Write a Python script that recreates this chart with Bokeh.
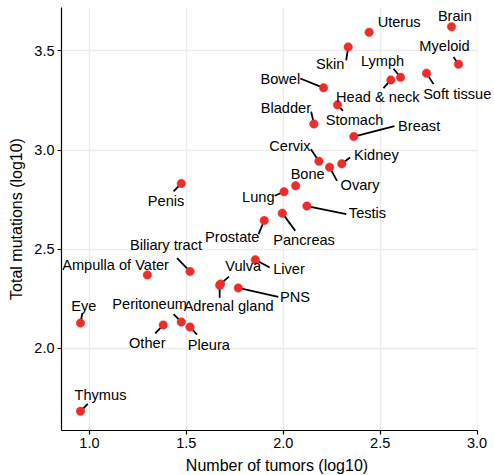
from bokeh.plotting import figure
from bokeh.models import ColumnDataSource, LabelSet, Range1d, FixedTicker, NumeralTickFormatter, BoxAnnotation
from bokeh.core.properties import value
from bokeh.embed import file_html
from bokeh.resources import INLINE

# ---- data (log10 values) ----
tissues = ["Brain", "Uterus", "Skin", "Myeloid", "Lymph", "Head & neck", "Soft tissue",
           "Bowel", "Stomach", "Bladder", "Breast", "Cervix", "Kidney", "Ovary", "Bone",
           "Lung", "Testis", "Pancreas", "Prostate", "Penis", "Biliary tract",
           "Ampulla of Vater", "Vulva", "Adrenal gland", "PNS", "Liver", "Eye", "Other",
           "Peritoneum", "Pleura", "Thymus"]
n_tumors_log10 = [2.868, 2.443, 2.335, 2.904, 2.605, 2.555, 2.739,
                  2.208, 2.280, 2.158, 2.364, 2.184, 2.302, 2.239, 2.064,
                  2.004, 2.122, 1.995, 1.902, 1.474, 1.519,
                  1.299, 1.677, 1.672, 1.768, 1.856, 0.954, 1.381,
                  1.474, 1.519, 0.954]
mutations_log10 = [3.622, 3.594, 3.520, 3.433, 3.367, 3.354, 3.388,
                   3.314, 3.228, 3.132, 3.068, 2.944, 2.931, 2.914, 2.820,
                   2.790, 2.718, 2.682, 2.645, 2.832, 2.388,
                   2.370, 2.325, 2.318, 2.305, 2.447, 2.128, 2.118,
                   2.133, 2.108, 1.683]
x_ticks = [1.0, 1.5, 2.0, 2.5, 3.0]
y_ticks = [2.0, 2.5, 3.0, 3.5]

# ---- label placement (screen px, +down), separate from data ----
label_dx = [3.4, 30, -18, -14, -18, -13, 30.7,
            -43.3, 17, -28, 65.3, -29, 34.6, 30.4, 12,
            -25.7, 60.6, 21.8, -32, -15.2, -24,
            -31.8, 22.6, 9, 56.7, 33.7, 3.3, -16,
            -31.7, 18.8, 20]
label_dy = [-10.7, -10, 17, -18.3, -16.3, 17, 21,
            -9.3, 14.7, -16.3, -10.4, -15.6, -9, 17.7, -12,
            5.7, 7, 27, 17, 17.3, -26.4,
            -10, -17.6, 21, 9, 9.3, -17.3, 17.7,
            -18, 17.7, -16.7]
seg_end = [None, None, (-2, 13.3), (-5, -7.3), (-7, -8.6), (-7.4, 8.3), (7, 11),
           (-23.3, -9.3), (5.4, 6), (-2.7, -12.3), (40.6, -10.4), (-8, -12), (8.3, -6.3), (7.4, 13.7), None,
           (-9.4, 4), (39.3, 8), (13, 17.7), (-5.7, 13.6), (-7.7, 8), (-13, -13.4),
           None, (8.3, -7.3), (0, 12.4), (40, 9), (14.3, 7.7), (1.7, -9), (-8, 8.4),
           (-7.7, -8), (7, 7.7), (7.3, -7.4)]

# panel extent (data units) and pixel size of the panel
X0, X1 = 0.856, 3.002
Y0, Y1 = 1.586, 3.719
PW, FH = 416, 423
EXTRA = 15                      # extra frame width on the right so labels are not clipped
FW = PW + EXTRA
sx = (X1 - X0) / PW
sy = (Y1 - Y0) / FH
X1_FRAME = X1 + EXTRA * sx

FONT = "Liberation Sans"

p = figure(frame_width=FW, frame_height=FH,
           min_border_left=61, min_border_right=2, min_border_top=7, min_border_bottom=45,
           x_range=Range1d(X0, X1_FRAME), y_range=Range1d(Y0, Y1),
           output_backend="svg", toolbar_location=None)
p.outline_line_color = None
p.background_fill_color = "white"
p.border_fill_color = "white"

for ax, ticks in ((p.xaxis, x_ticks), (p.yaxis, y_ticks)):
    ax.ticker = FixedTicker(ticks=ticks)
    ax.formatter = NumeralTickFormatter(format="0.0")
    ax.axis_line_color = "black"
    ax.axis_line_width = 1.2
    ax.major_tick_line_color = "black"
    ax.major_tick_line_width = 1.2
    ax.major_tick_out = 4
    ax.major_tick_in = 0
    ax.minor_tick_line_color = None
    ax.major_label_text_font = FONT
    ax.major_label_text_font_size = "14.5px"
    ax.major_label_text_color = "black"
    ax.major_label_standoff = 3
    ax.axis_label_text_font = FONT
    ax.axis_label_text_font_size = "16px"
    ax.axis_label_text_font_style = "normal"
    ax.axis_label_text_color = "black"
    ax.axis_label_standoff = 6

p.xaxis.bounds = (X0, X1)
p.xaxis.axis_label = "Number of tumors (log10)"
p.yaxis.axis_label = "Total mutations (log10)"
p.xgrid.ticker = FixedTicker(ticks=x_ticks)
p.ygrid.ticker = FixedTicker(ticks=y_ticks)
p.grid.grid_line_color = "#EBEBEB"
p.grid.grid_line_width = 1.3

# segments (screen-px offsets converted to data units)
s0x, s0y, s1x, s1y = [], [], [], []
for xv, yv, se in zip(n_tumors_log10, mutations_log10, seg_end):
    if se is None:
        continue
    s0x.append(xv); s0y.append(yv)
    s1x.append(xv + se[0] * sx); s1y.append(yv - se[1] * sy)
p.segment(x0=s0x, y0=s0y, x1=s1x, y1=s1y, line_color="black", line_width=1.8)

src = ColumnDataSource(dict(x=n_tumors_log10, y=mutations_log10, name=tissues,
                            dx=label_dx, dy=[-d for d in label_dy]))
p.scatter("x", "y", source=src, size=8.5, fill_color="#EE2C2C", line_color="#EE2C2C", line_width=0.5)

# blank out the strip right of the panel (keeps grid lines ending at the panel edge)
p.add_layout(BoxAnnotation(left=X1, fill_color="white", fill_alpha=1.0, line_color=None))

labels = LabelSet(x="x", y="y", text="name", source=src, x_offset="dx", y_offset="dy",
                  text_align="center", text_baseline="middle",
                  text_font=value(FONT), text_font_size=value("14.6px"), text_color=value("black"))
p.add_layout(labels)

open("out.html", "w").write(file_html(p, INLINE))
